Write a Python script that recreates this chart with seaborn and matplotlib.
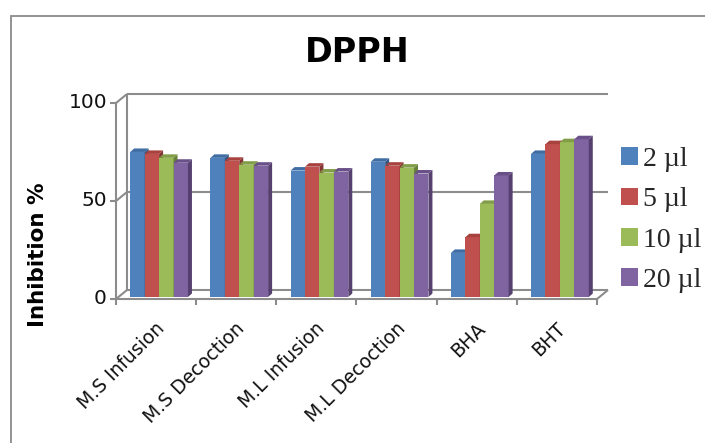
import numpy as np
import pandas as pd
import matplotlib
matplotlib.use("Agg")
import matplotlib.pyplot as plt
import seaborn as sns
from matplotlib.patches import Polygon, Rectangle, Patch
from matplotlib.transforms import ScaledTranslation

categories = ["M.S Infusion", "M.S Decoction", "M.L Infusion", "M.L Decoction", "BHA", "BHT"]
series = ["2 µl", "5 µl", "10 µl", "20 µl"]
v2 = [74, 71, 64.5, 69, 22.5, 73]
v5 = [73, 69.5, 66.5, 67, 30.5, 78]
v10 = [71, 67.5, 63.5, 66, 47.5, 79]
v20 = [68.5, 67, 64, 63, 62, 80.5]
yticks = [0, 50, 100]

colors = ["#4F81BD", "#C0504D", "#9BBB59", "#8064A2"]
top_colors = ["#3F6DA4", "#A8423F", "#819D47", "#6A5089"]
side_colors = ["#335683", "#853533", "#67803A", "#55406F"]

sns.set_style("white")

rows = []
for s, vals in zip(series, [v2, v5, v10, v20]):
    for c, v in zip(categories, vals):
        rows.append({"cat": c, "dose": s, "val": v})
df = pd.DataFrame(rows)

W, H = 705, 443
fig = plt.figure(figsize=(W / 100, H / 100), dpi=100)
x0p, x1p, y0p, y1p = 116, 597, 299, 103
ax = fig.add_axes([x0p / W, 1 - y0p / H, (x1p - x0p) / W, (y0p - y1p) / H])
ax.set_facecolor("none")

sns.barplot(data=df, x="cat", y="val", hue="dose", palette=colors, width=0.72,
            saturation=1, ax=ax, legend=False, errorbar=None, linewidth=0,
            edgecolor="none")

ax.set_xlim(-0.5, 5.5)
ax.set_ylim(0, 100)
ax.axis("off")

ux = 6 / (x1p - x0p)
uy = 100 / (y0p - y1p)

gc = "#8C8C8C"
glw = 1.5
Dx, Dy = 11 * ux, 9 * uy
L, R = -0.5, 5.5

def line(xs, ys, z=1):
    ax.plot(xs, ys, color=gc, lw=glw, zorder=z, clip_on=False, solid_capstyle="butt")

# back wall & floor
for yv in yticks:
    line([L + Dx, R + Dx], [yv + Dy, yv + Dy])
    line([L, L + Dx], [yv, yv + Dy])
line([L + Dx, L + Dx], [Dy, 100 + Dy])
line([R, R + Dx], [0, Dy])
# front axes
line([L, L], [0, 100], z=2)
line([L, R], [0, 0], z=2)
for yv in yticks:
    line([L - 6 * ux, L], [yv, yv], z=2)
    ax.text(L - 9 * ux, yv, str(yv), ha="right", va="center", fontsize=14.5,
            color="#111111")
for k in range(7):
    line([L + k, L + k], [0, -6 * uy], z=2)
for i, c in enumerate(categories):
    ax.text(i - 1 * ux, -20 * uy, c, rotation=45, ha="right", va="top",
            rotation_mode="anchor", fontsize=13.5, color="#111111")

# pseudo-3D bars
off = ScaledTranslation(3 / 100, 2 / 100, fig.dpi_scale_trans)
trans = ax.transData + off
bdx, bdy = 4 * ux, 3.5 * uy
for hi, cont in enumerate(ax.containers):
    for bar in cont:
        x, w, h = bar.get_x(), bar.get_width(), bar.get_height()
        z = 3 + x * 0.01
        bar.set_transform(trans)
        bar.set_zorder(z)
        bar.set_clip_on(False)
        xr = x + w
        side = Polygon([(xr, 0), (xr + bdx, bdy), (xr + bdx, h + bdy), (xr, h)],
                       closed=True, facecolor=side_colors[hi], edgecolor="none",
                       transform=trans, zorder=z, clip_on=False)
        top = Polygon([(x, h), (x + bdx, h + bdy), (xr + bdx, h + bdy), (xr, h)],
                      closed=True, facecolor=top_colors[hi], edgecolor="none",
                      transform=trans, zorder=z, clip_on=False)
        ax.add_patch(side)
        ax.add_patch(top)

# title and y label
fig.text(357 / W, 1 - 52 / H, "DPPH", ha="center", va="center", fontsize=24,
         fontweight="bold", color="#000000")
fig.text(38 / W, 1 - 255 / H, "Inhibition %", ha="center", va="center",
         rotation=90, fontsize=15.5, fontweight="bold", color="#000000")

# legend
handles = [Patch(facecolor=c, edgecolor="none") for c in colors]
fig.legend(handles, series, loc="upper left", bbox_to_anchor=(621 / W, 1 - 147 / H),
           frameon=False, prop={"family": "Liberation Serif", "size": 20},
           handlelength=0.6, handleheight=0.6, handletextpad=0.2,
           labelspacing=0.55, borderaxespad=0, borderpad=0)

# outer chart border
fig.add_artist(Rectangle((11 / W, -0.05), 1.1, 1 - 16 / H + 0.05, fill=False,
                         edgecolor="#8A8A8A", lw=1.3, transform=fig.transFigure))

fig.savefig("out.png", dpi=100)
